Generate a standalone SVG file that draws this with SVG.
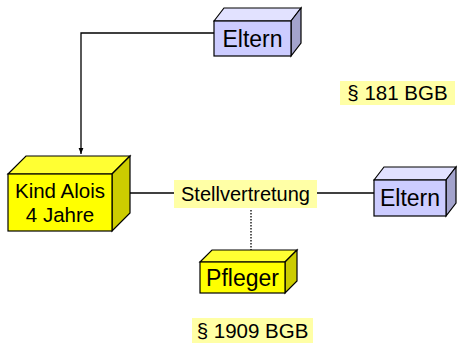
<svg xmlns="http://www.w3.org/2000/svg" width="458" height="347" viewBox="0 0 458 347">
<defs>
<marker id="arr" viewBox="0 0 10 10" refX="10" refY="5" markerWidth="5" markerHeight="5" orient="auto" markerUnits="strokeWidth">
<path d="M0,1 L10,5 L0,9 z" fill="#000"/>
</marker>
</defs>
<style>
text{font-family:"Liberation Sans",Arial,sans-serif;fill:#000;text-anchor:middle}
.bf{fill:#CCCCFF;stroke:#000;stroke-width:1.2}
.bt{fill:#E2E2FF;stroke:#000;stroke-width:1.2}
.bs{fill:#A3A3CC;stroke:#000;stroke-width:1.2}
.yf{fill:#FFFF00;stroke:#000;stroke-width:1.2}
.yt{fill:#FFFF33;stroke:#000;stroke-width:1.2}
.ys{fill:#CCCC00;stroke:#000;stroke-width:1.2}
.lbl{fill:#FFFFA6}
.ln{fill:none;stroke:#000;stroke-width:1.3}
</style>
<rect width="458" height="347" fill="#fff"/>
<g id="connectors">
<polyline class="ln" points="214,33 81,33 81,154" marker-end="url(#arr)"/>
<line class="ln" x1="130" y1="193" x2="174" y2="193"/>
<line class="ln" x1="317" y1="193" x2="374" y2="193"/>
<line class="ln" x1="251" y1="210" x2="251" y2="250" stroke-dasharray="1.5,1.5"/>
</g>
<g id="eltern-top">
<polygon class="bt" points="214,21 224,8 301,8 291,21"/>
<polygon class="bs" points="291,21 301,8 301,43 291,56"/>
<rect class="bf" x="214" y="21" width="77" height="35"/>
<text x="252.5" y="47" font-size="23">Eltern</text>
</g>
<g id="kind">
<polygon class="yt" points="8,174 26,156 130,156 112,174"/>
<polygon class="ys" points="112,174 130,156 130,213 112,231"/>
<rect class="yf" x="8" y="174" width="104" height="57"/>
<text x="60" y="198" font-size="20.5">Kind Alois</text>
<text x="60" y="222" font-size="20.5">4 Jahre</text>
</g>
<g id="stellvertretung">
<rect class="lbl" x="174" y="180" width="143" height="28"/>
<text x="245.5" y="201" font-size="20">Stellvertretung</text>
</g>
<g id="eltern-right">
<polygon class="bt" points="374,180 384,167 456,167 446,180"/>
<polygon class="bs" points="446,180 456,167 456,203 446,216"/>
<rect class="bf" x="374" y="180" width="72" height="36"/>
<text x="410" y="206" font-size="23">Eltern</text>
</g>
<g id="pfleger">
<polygon class="yt" points="200,262 212,250 297,250 285,262"/>
<polygon class="ys" points="285,262 297,250 297,281 285,293"/>
<rect class="yf" x="200" y="262" width="85" height="31"/>
<text x="242.5" y="286" font-size="23">Pfleger</text>
</g>
<g id="bgb181">
<rect class="lbl" x="340" y="81" width="115" height="24"/>
<text x="397.5" y="100" font-size="20.5">§ 181 BGB</text>
</g>
<g id="bgb1909">
<rect class="lbl" x="192" y="318" width="121" height="25"/>
<text x="252.5" y="338" font-size="20.5">§ 1909 BGB</text>
</g>
</svg>
